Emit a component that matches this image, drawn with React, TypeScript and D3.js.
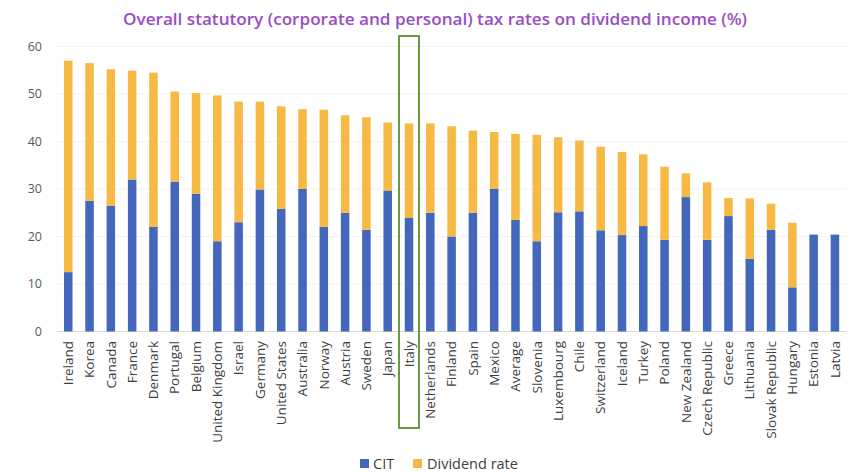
import React from "react";
import * as d3 from "d3";

const categories = ["Ireland","Korea","Canada","France","Denmark","Portugal","Belgium","United Kingdom","Israel","Germany","United States","Australia","Norway","Austria","Sweden","Japan","Italy","Netherlands","Finland","Spain","Mexico","Average","Slovenia","Luxembourg","Chile","Switzerland","Iceland","Turkey","Poland","New Zealand","Czech Republic","Greece","Lithuania","Slovak Republic","Hungary","Estonia","Latvia"];
const citValues = [12.5,27.5,26.5,32.0,22.0,31.5,29.0,19.0,23.0,29.9,25.8,30.0,22.0,25.0,21.4,29.7,24.0,25.0,20.0,25.0,30.0,23.5,19.0,25.1,25.3,21.3,20.3,22.2,19.3,28.3,19.3,24.3,15.3,21.4,9.3,20.4,20.4];
const totalValues = [57.0,56.5,55.2,54.9,54.5,50.5,50.2,49.7,48.4,48.4,47.4,46.8,46.7,45.5,45.1,44.0,43.8,43.8,43.2,42.3,42.0,41.6,41.4,40.9,40.2,38.9,37.8,37.3,34.7,33.3,31.4,28.1,28.0,26.9,22.9,20.4,20.4];
const dividendValues = totalValues.map((t, i) => Math.max(0, +(t - citValues[i]).toFixed(1)));
const yTicks = [0, 10, 20, 30, 40, 50, 60];
const seriesNames = ["CIT", "Dividend rate"];
const highlight = "Italy";
const title = "Overall statutory (corporate and personal) tax rates on dividend income (%)";

const W = 855, H = 474;
const COL_CIT = "#4367bb";
const COL_DIV = "#f6b944";

export default function App() {
  const x = d3.scaleBand<string>().domain(categories).range([57.6, 845.6]).paddingInner(0.6).paddingOuter(0.3);
  const xr = d3.scaleBand<string>().domain(categories).range([57.6, 845.6]);
  const y = d3.scaleLinear().domain([0, 60]).range([331.5, 46.5]);
  const font = "'Open Sans', sans-serif";
  const step = xr.bandwidth();
  const hx = (xr(highlight) as number);
  return (
    <svg width={W} height={H} style={{ position: "absolute", left: 0, top: 0, background: "#fff" }}>
      <text x={435} y={25} textAnchor="middle" fontFamily={font} fontWeight={600} fontSize={16} fill="#9a4cc6" textLength={624} lengthAdjust="spacingAndGlyphs">{title}</text>
      {yTicks.map(t => (
        <g key={t}>
          {t > 0 && <line x1={57} x2={846} y1={y(t)} y2={y(t)} stroke="#f3f3f3" strokeWidth={1} />}
          <text x={42} y={y(t)} dy="0.35em" textAnchor="end" fontFamily={font} fontSize={12.5} fill="#595959">{t}</text>
        </g>
      ))}
      <line x1={57} x2={846} y1={y(0)} y2={y(0)} stroke="#d9d9d9" strokeWidth={1} />
      {categories.map((c, i) => {
        const bx = x(c) as number;
        const bw = x.bandwidth();
        const cx = (xr(c) as number) + step / 2;
        return (
          <g key={c}>
            <rect x={bx} width={bw} y={y(citValues[i])} height={y(0) - y(citValues[i])} fill={COL_CIT} />
            <rect x={bx} width={bw} y={y(citValues[i] + dividendValues[i])} height={y(citValues[i]) - y(citValues[i] + dividendValues[i])} fill={COL_DIV} />
            <text transform={`translate(${cx},${341}) rotate(-90)`} dy="0.35em" textAnchor="end" fontFamily={font} fontSize={13.5} fill="#404040">{c}</text>
          </g>
        );
      })}
      <rect x={hx + step / 2 - 10} y={36} width={20} height={392} fill="none" stroke="#6b9a3c" strokeWidth={2} />
      <g fontFamily={font} fontSize={14.5} fill="#404040">
        <rect x={360} y={459} width={9} height={9} fill={COL_CIT} />
        <text x={373} y={464} dy="0.35em">{seriesNames[0]}</text>
        <rect x={413} y={459} width={9} height={9} fill={COL_DIV} />
        <text x={427} y={464} dy="0.35em">{seriesNames[1]}</text>
      </g>
    </svg>
  );
}
